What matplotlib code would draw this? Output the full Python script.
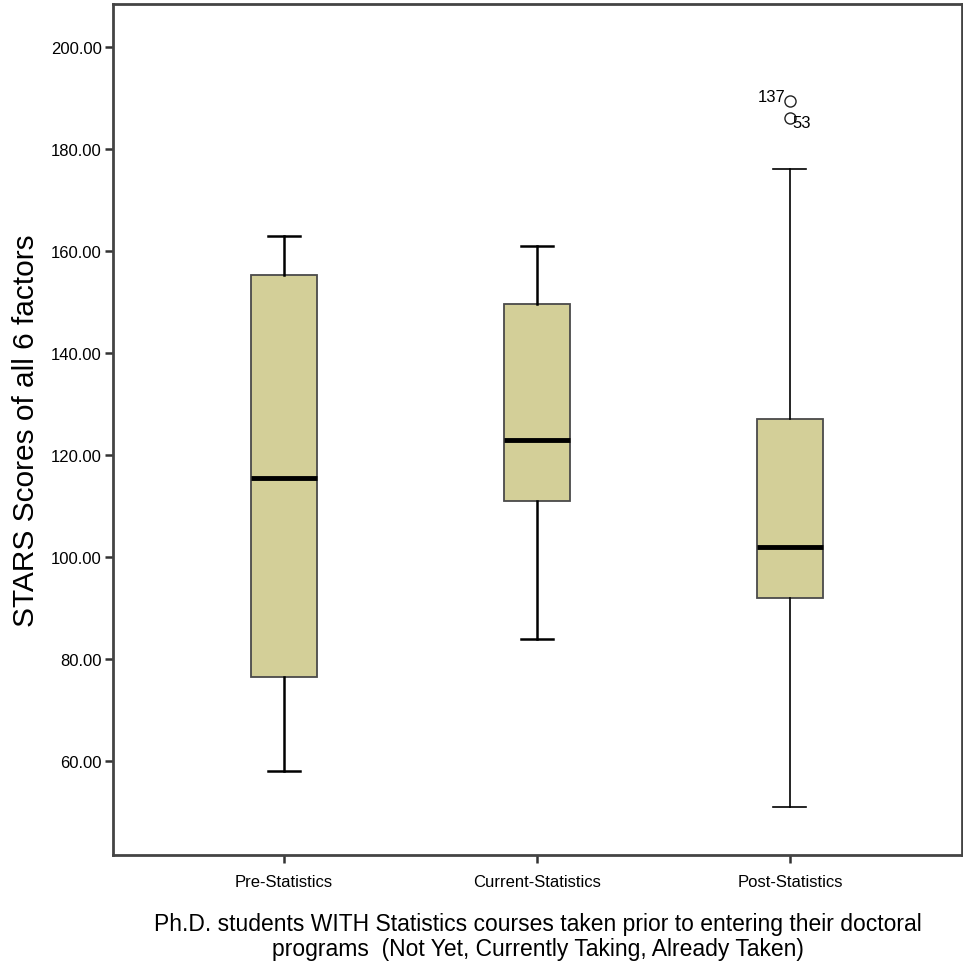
import matplotlib.pyplot as plt
from matplotlib import font_manager

# box summaries
groups = ["Pre-Statistics", "Current-Statistics", "Post-Statistics"]
whislo = [58.0, 84.0, 51.0]
q1 = [76.5, 111.0, 92.0]
med = [115.5, 123.0, 102.0]
q3 = [155.2, 149.6, 127.0]
whishi = [163.0, 161.0, 176.0]
outliers = [[], [], [189.5, 186.0]]
outlier_ids = [[], [], ["137", "53"]]

yticks = [60, 80, 100, 120, 140, 160, 180, 200]

names = {f.name for f in font_manager.fontManager.ttflist}
narrow = "Liberation Sans Narrow" if "Liberation Sans Narrow" in names else "Liberation Sans"
nsize = 14 if narrow == "Liberation Sans Narrow" else 12

fig = plt.figure(figsize=(9.63, 9.78), dpi=100)
ax = fig.add_axes([0.1173, 0.1247, 0.8816, 0.8701])

stats = []
for i in range(3):
    stats.append({"whislo": whislo[i], "q1": q1[i], "med": med[i], "q3": q3[i],
                  "whishi": whishi[i], "fliers": outliers[i], "label": groups[i]})

bp = ax.bxp(stats, positions=[1, 2, 3], widths=0.26, patch_artist=True,
            showfliers=True,
            boxprops=dict(facecolor="#d3cf98", edgecolor="#4a4a4a", linewidth=1.3),
            medianprops=dict(color="black", linewidth=3.5),
            whiskerprops=dict(color="black", linewidth=1.8),
            capprops=dict(color="black", linewidth=1.8),
            flierprops=dict(marker="o", markerfacecolor="none", markeredgecolor="#222222",
                            markersize=8, markeredgewidth=1.0))
# the post box has thinner whiskers in the original
for ln in bp["whiskers"][4:6] + bp["caps"][4:6]:
    ln.set_linewidth(1.2)
for c in bp["caps"]:
    x0, x1 = c.get_xdata()
    m = (x0 + x1) / 2
    c.set_xdata([m - 0.065, m + 0.065])

for val, lab in zip(outliers[2], outlier_ids[2]):
    if lab == "137":
        ax.annotate(lab, (3, val), xytext=(-3, 3), textcoords="offset points",
                    ha="right", va="center", family=narrow, fontsize=nsize)
    else:
        ax.annotate(lab, (3, val), xytext=(2, -3), textcoords="offset points",
                    ha="left", va="center", family=narrow, fontsize=nsize)

ax.set_xlim(0.324, 3.68)
ax.set_ylim(41.6, 208.4)
ax.set_yticks(yticks)
ax.set_yticklabels(["%.2f" % v for v in yticks], family=narrow, fontsize=nsize)
ax.set_xticks([1, 2, 3])
ax.set_xticklabels(groups, family=narrow, fontsize=nsize)
ax.tick_params(axis="both", direction="out", length=6, width=1.8, color="#333333")
ax.tick_params(axis="x", pad=8)
ax.tick_params(axis="y", pad=2)
for s in ax.spines.values():
    s.set_linewidth(2.0)
    s.set_color("#444444")

ax.set_ylabel("STARS Scores of all 6 factors", family="Liberation Sans", fontsize=21.5, labelpad=8)
ax.set_xlabel("Ph.D. students WITH Statistics courses taken prior to entering their doctoral\n"
              "programs  (Not Yet, Currently Taking, Already Taken)",
              family=narrow, fontsize=16.5, linespacing=1.1, labelpad=16)

fig.savefig("out.png", dpi=100)
